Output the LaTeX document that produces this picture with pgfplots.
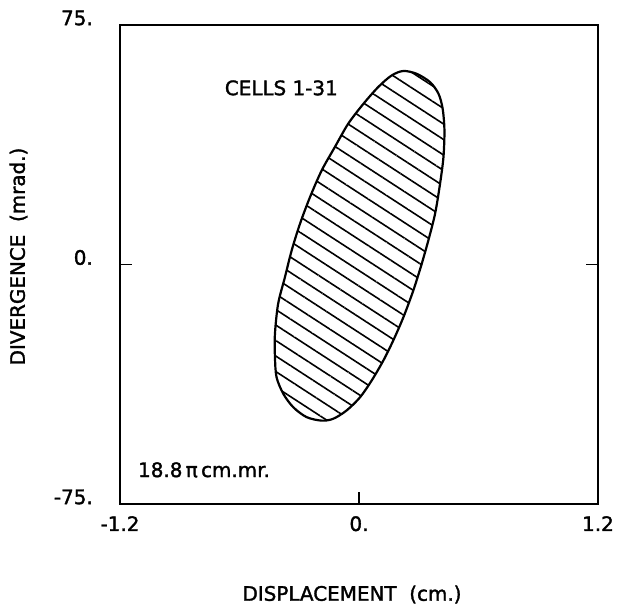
\documentclass[border=0pt]{standalone}
\usepackage{pgfplots}
\pgfplotsset{compat=1.18}
\usepackage{fontspec}
\setmainfont{DejaVu Sans}[RawFeature={embolden=1.6}]
\usetikzlibrary{patterns.meta}
\newcommand{\lbl}{\fontsize{20}{24}\selectfont}
\begin{document}
\begin{tikzpicture}
\begin{axis}[
  scale only axis, width=478bp, height=479bp,
  xmin=-1.2, xmax=1.2, ymin=-75, ymax=75,
  xtick={-1.2,0,1.2}, xticklabels={-1.2,0.,1.2},
  ytick={-75,0,75}, yticklabels={-75.,0.,75.},
  xtick pos=bottom, ytick pos=both,
  tick align=inside, major tick length=12bp,
  tick style={line width=1.8bp, black},
  axis line style={line width=2.3bp},
  xticklabel style={font=\lbl, anchor=north, inner sep=0pt, yshift=-12bp},
  yticklabel style={font=\lbl, anchor=east, inner sep=0pt, xshift=-27bp, yshift=7bp},
  every axis x label/.style={at={(axis cs:-0.035,-105.3)}, anchor=base, font=\lbl},
  every axis y label/.style={at={(axis cs:-1.678,2.5)}, rotate=90, anchor=base, font=\lbl},
  xlabel={DISPLACEMENT~~(cm.)},
  ylabel={DIVERGENCE~~(mrad.)},
  clip=false,
]
\addplot[line width=2.2bp, black, smooth, tension=0.5,
  pattern={Lines[angle=-33, distance=13bp, line width=1.6bp]}] coordinates {
(0.315,0.2) (0.273,-8.1)
(0.223,-16.5) (0.172,-23.8) (0.122,-30.1) (0.064,-36.3) (0.005,-41.6) (-0.062,-45.7)
(-0.129,-48.3) (-0.187,-48.9) (-0.263,-47.8) (-0.330,-44.7) (-0.380,-40.5) (-0.414,-35.3)
(-0.422,-29.0) (-0.422,-21.7) (-0.406,-12.3) (-0.372,-4.0) (-0.338,4.4) (-0.296,12.8)
(-0.246,21.1) (-0.187,29.5) (-0.121,36.8) (-0.054,44.1) (0.022,50.3) (0.097,55.6)
(0.164,59.2) (0.223,60.6) (0.290,59.7) (0.357,57.1) (0.399,53.5) (0.420,48.8) (0.429,42.0)
(0.424,33.6) (0.407,25.3) (0.382,15.9) (0.348,7.5) (0.315,0.2)
};
\node[font=\lbl, anchor=center] at (axis cs:-0.39,55.3) {CELLS\ 1-31};
\node[font=\lbl, anchor=west, inner sep=0pt] at (axis cs:-1.11,-64.3) {18.8\,π\,cm.mr.};
\end{axis}
\pgfresetboundingbox
\path[use as bounding box] ([shift={(-120bp,-107bp)}]current axis.south west) rectangle ([shift={(19bp,25bp)}]current axis.north east);
\end{tikzpicture}
\end{document}
